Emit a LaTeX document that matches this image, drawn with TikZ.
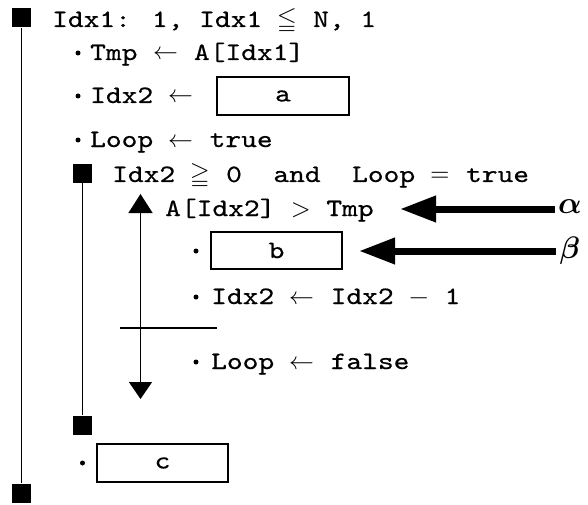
\documentclass[tikz,border=0pt]{standalone}
\usepackage{fontspec}
\usepackage{unicode-math}
\newfontfamily\codefont{lmmono10-regular}[Extension=.otf, FakeStretch=1.2, FakeBold=0.5]
\usetikzlibrary{arrows.meta}

\tikzset{
  code/.style={anchor=base west, inner sep=0pt, font=\fontsize{25}{30}\selectfont\codefont},
  blank/.style={draw, line width=2.8pt, inner sep=0pt, font=\fontsize{25}{30}\selectfont\codefont},
  mark sq/.style={fill=black, inner sep=0pt, minimum size=19pt},
  dot/.style={circle, fill=black, inner sep=0pt, minimum size=5pt},
  bar/.style={line width=1.4pt},
  loopline/.style={line width=1.4pt, {Triangle[length=17pt,width=23pt]}-{Triangle[length=19pt,width=24pt]}},
  bigarrow/.style={line width=7pt, -{Triangle[length=36pt,width=25pt]}},
  greek/.style={inner sep=0pt, font=\fontsize{31}{34}\selectfont},
}

\begin{document}
\begin{tikzpicture}[x=1pt, y=-1pt]
\useasboundingbox (0,0) rectangle (588,505);

% outer loop
\node[mark sq] (outerTop) at (21.5,18) {};
\node[mark sq] (outerBot) at (21.5,493) {};
\draw[bar] (outerTop.south) -- (outerBot.north);
\node[code] (hdr) at (52,27) {Idx1: 1, Idx1 $≦$ N, 1};

\node[dot] (d1) at (78,53) {};
\node[code] (tmp) at (90,60) {Tmp $←$ A[Idx1]};

\node[dot] (d2) at (78,96) {};
\node[code] (idx2) at (90,103) {Idx2 $←$};
\node[blank, minimum width=132pt, minimum height=38pt] (boxa) at (283,96) {a};

\node[dot] (d3) at (78,140) {};
\node[code] (loop1) at (90,147) {Loop $←$ true};

% inner loop
\node[mark sq] (innerTop) at (82.5,173) {};
\node[mark sq] (innerBot) at (82.5,425) {};
\draw[bar] (innerTop.south) -- (innerBot.north);
\node[code] (cond) at (112,182) {Idx2 $≧$ 0~~and~~Loop $=$ true};

% selection
\coordinate (selTop) at (140.5,194);
\coordinate (selBot) at (140.5,399);
\draw[loopline] (selBot) -- (selTop);
\node[code] (cmp) at (165,216) {A[Idx2] $>$ Tmp};

\node[dot] (d4) at (196,251) {};
\node[blank, minimum width=131pt, minimum height=37pt] (boxb) at (276.5,250.5) {b};

\node[dot] (d5) at (196,297) {};
\node[code] (dec) at (211,304) {Idx2 $←$ Idx2 $-$ 1};

\coordinate (sepL) at (120,328);
\coordinate (sepR) at (217,328);
\draw[bar] (sepL) -- (sepR);

\node[dot] (d6) at (196,362) {};
\node[code] (loop2) at (211,369) {Loop $←$ false};

\node[dot] (d7) at (82.5,463) {};
\node[blank, minimum width=131pt, minimum height=38pt] (boxc) at (162.5,463) {c};

% pointers
\node[greek] (alpha) at (570,207) {$\symbfit{α}$};
\node[greek] (beta) at (570,251) {$\symbfit{β}$};
\coordinate (alphaTip) at (400,209);
\coordinate (betaTip) at (359,251);
\draw[bigarrow] (alpha.west |- alphaTip) ++(-3,0) -- (alphaTip);
\draw[bigarrow] (beta.west |- betaTip) ++(-3,0) -- (betaTip);
\end{tikzpicture}
\end{document}
